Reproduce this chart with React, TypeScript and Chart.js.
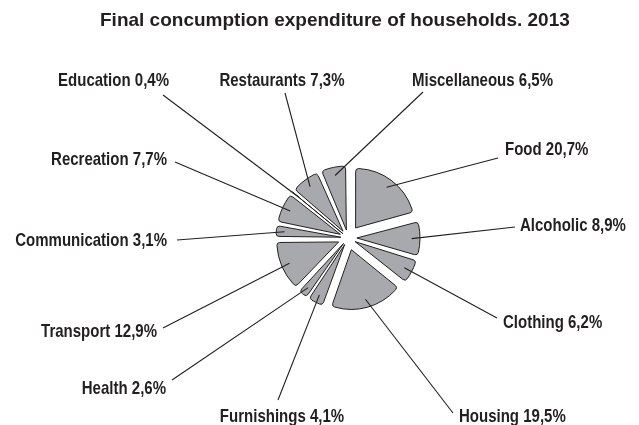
import React, { useEffect, useRef } from "react";
import { Chart, registerables } from "chart.js";

Chart.register(...registerables);

// ---- data ----
const TITLE = "Final concumption expenditure of households. 2013";
const CATEGORIES = [
  "Food",
  "Alcoholic",
  "Clothing",
  "Housing",
  "Furnishings",
  "Health",
  "Transport",
  "Communication",
  "Recreation",
  "Education",
  "Restaurants",
  "Miscellaneous",
];
const SHARES = [20.7, 8.9, 6.2, 19.5, 4.1, 2.6, 12.9, 3.1, 7.7, 0.4, 7.3, 6.5];

// ---- layout / style ----
const FONT = '"Liberation Sans", Arial, sans-serif';
const TEXT_COLOR = "#231f20";
const SLICE_FILL = "#a7a9ac";
const PIE_RADIUS = 59;
const EXPLODE = 13; // desired outward reach added by the explosion, px
const LABEL_FONT_SIZE = 19;
const LABEL_SQUEEZE = 0.79;

// label anchor (x, y = cap middle), text alignment, leader attach point
const LABEL_LAYOUT = [
  { x: 505, y: 149, align: "left", lx: 498, ly: 158 },
  { x: 520, y: 225, align: "left", lx: 515, ly: 227 },
  { x: 503, y: 322, align: "left", lx: 497, ly: 318 },
  { x: 459, y: 416, align: "left", lx: 453, ly: 413 },
  { x: 282, y: 416, align: "center", lx: 278, ly: 400 },
  { x: 166, y: 388, align: "right", lx: 172, ly: 380 },
  { x: 157, y: 331, align: "right", lx: 163, ly: 328 },
  { x: 167, y: 240, align: "right", lx: 177, ly: 240 },
  { x: 167, y: 159, align: "right", lx: 175, ly: 162 },
  { x: 169, y: 80, align: "right", lx: 163, ly: 95 },
  { x: 282, y: 80, align: "center", lx: 285, ly: 93 },
  { x: 412, y: 80, align: "left", lx: 423, ly: 92 },
];

const formatShare = (v: number) => v.toFixed(1).replace(".", ",") + "%";

const TOTAL = SHARES.reduce((a, b) => a + b, 0);
// Chart.js enlarges small exploded arcs by shift*(1 - sin(circumference));
// choose each arc's shift so every slice reaches the same outer radius.
const shiftFor = (v: number) => {
  const circ = (v / TOTAL) * Math.PI * 2;
  const fix = 1 - Math.sin(Math.min(Math.PI, circ));
  return EXPLODE / (1 + fix);
};
const SHIFTS = SHARES.map(shiftFor);

const labelPlugin = {
  id: "outsideLabels",
  afterDatasetsDraw(chart: any) {
    const ctx: CanvasRenderingContext2D = chart.ctx;
    const meta = chart.getDatasetMeta(0);
    ctx.save();
    ctx.strokeStyle = TEXT_COLOR;
    ctx.lineWidth = 1.1;
    meta.data.forEach((arc: any, i: number) => {
      const lay = LABEL_LAYOUT[i];
      if (!lay) return;
      const { x, y, startAngle, endAngle, outerRadius } = arc.getProps(
        ["x", "y", "startAngle", "endAngle", "outerRadius"],
        true
      );
      const mid = (startAngle + endAngle) / 2;
      const d = EXPLODE + outerRadius * 0.86;
      const px = x + Math.cos(mid) * d;
      const py = y + Math.sin(mid) * d;
      ctx.beginPath();
      ctx.moveTo(lay.lx, lay.ly);
      ctx.lineTo(px, py);
      ctx.stroke();
    });
    ctx.fillStyle = TEXT_COLOR;
    ctx.font = `bold ${LABEL_FONT_SIZE}px ${FONT}`;
    ctx.textBaseline = "middle";
    meta.data.forEach((arc: any, i: number) => {
      const lay = LABEL_LAYOUT[i];
      if (!lay) return;
      const text = `${CATEGORIES[i]} ${formatShare(SHARES[i])}`;
      ctx.save();
      ctx.translate(lay.x, lay.y + 1);
      ctx.scale(LABEL_SQUEEZE, 1);
      ctx.textAlign = lay.align as CanvasTextAlign;
      ctx.fillText(text, 0, 0);
      ctx.restore();
    });
    ctx.restore();
  },
};

export default function App() {
  const canvasRef = useRef<HTMLCanvasElement | null>(null);

  useEffect(() => {
    if (!canvasRef.current) return;
    const chart = new Chart(canvasRef.current, {
      type: "pie",
      data: {
        labels: CATEGORIES,
        datasets: [
          {
            data: SHARES,
            backgroundColor: SLICE_FILL,
            borderColor: TEXT_COLOR,
            borderWidth: 1,
            borderRadius: 3,
            // chart.js draws the arc shifted by offset / 4
            offset: SHIFTS.map((s) => s * 4),
          },
        ],
      },
      options: {
        animation: false,
        responsive: true,
        maintainAspectRatio: false,
        devicePixelRatio: 1,
        radius: PIE_RADIUS,
        layout: { padding: { left: 100, right: 43, top: 0, bottom: 41 } },
        plugins: {
          legend: { display: false },
          tooltip: { enabled: false },
          title: {
            display: true,
            text: TITLE,
            align: "start",
            color: TEXT_COLOR,
            font: { family: FONT, size: 19, weight: "bold", lineHeight: 1.2 },
            padding: { top: 9, bottom: 60 },
          },
        },
      } as any,
      plugins: [labelPlugin],
    });
    return () => chart.destroy();
  }, []);

  return (
    <div style={{ position: "absolute", left: 0, top: 0, width: 639, height: 425 }}>
      <canvas ref={canvasRef} />
    </div>
  );
}
